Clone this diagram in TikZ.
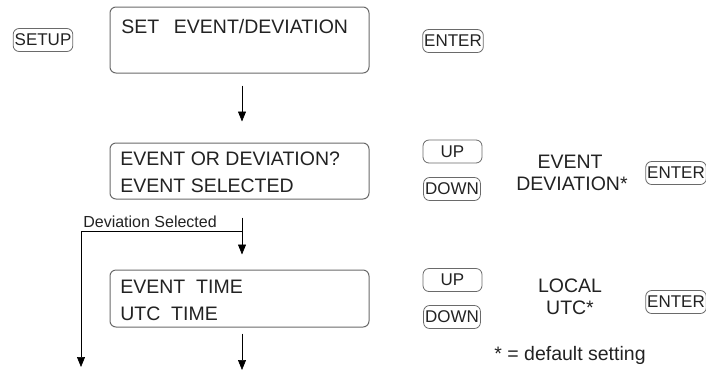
\documentclass[tikz,border=0pt]{standalone}
\usepackage{fontspec}
\setmainfont{Liberation Sans}
\usetikzlibrary{arrows.meta}

\definecolor{frame}{HTML}{6A6A6A}
\definecolor{ink}{HTML}{222222}

\begin{document}
\begin{tikzpicture}[x=1pt,y=-1pt,line width=.7pt,
  lcd/.style={draw=frame,line width=1pt,rounded corners=6pt,minimum width=259pt,inner sep=0pt},
  button/.style={draw=frame,line width=.8pt,rounded corners=6pt,inner xsep=1.5pt,inner ysep=0pt,minimum height=23pt,font=\fontsize{17}{17}\selectfont,text=ink},
  big/.style={inner sep=0pt,font=\fontsize{19.5}{22}\selectfont,text=ink},
  lcdline/.style={big,anchor=base west},
  choice/.style={big,anchor=base},
  arr/.style={-{Triangle[length=10pt,width=8pt]},line width=.7pt}]
\useasboundingbox (0,0) rectangle (706,373);
% displays
\node[lcd,minimum height=66pt] (setbox) at (239.5,40) {};
\node[lcd,minimum height=56pt] (evbox) at (239.5,171) {};
\node[lcd,minimum height=57pt] (timebox) at (239.5,298.5) {};
\node[lcdline] (settxt) at (121,33) {SET\hspace{.75em}EVENT/DEVIATION};
\node[lcdline] (evq) at (120,165) {EVENT OR DEVIATION?};
\node[lcdline] (evsel) at (120,192) {EVENT SELECTED};
\node[lcdline] (evtime) at (120,293) {EVENT\ \ TIME};
\node[lcdline] (utctime) at (120,320) {UTC\ \ TIME};
% keys
\node[button] (setup) at (43,40) {SETUP};
\node[button] (enter1) at (453,41) {ENTER};
\node[button,minimum width=59pt] (up1) at (452.5,151.5) {UP};
\node[button] (down1) at (452,189) {DOWN};
\node[button] (enter2) at (676,173) {ENTER};
\node[button,minimum width=59pt] (up2) at (452.5,280) {UP};
\node[button] (down2) at (452,317) {DOWN};
\node[button] (enter3) at (676,302) {ENTER};
% choices
\node[choice] (event) at (570,168) {EVENT};
\node[choice] (deviation) at (572,190) {DEVIATION*};
\node[choice] (local) at (570,292) {LOCAL};
\node[choice] (utc) at (570,314) {UTC*};
\node[choice] (default) at (570,360) {* = default setting};
% flow
\coordinate (branch) at (242,231);
\coordinate (devout) at (81,367);
\coordinate (timeout) at (242,370);
\draw[arr,shorten <=12pt,shorten >=21pt] ([xshift=2.5pt]setbox.south) -- ([xshift=2.5pt]evbox.north);
\draw[arr,shorten <=18pt,shorten >=15pt] ([xshift=2.5pt]evbox.south) -- ([xshift=2.5pt]timebox.north);
\draw[arr] (branch) -| (devout);
\draw[arr,shorten <=6pt] ([xshift=2.5pt]timebox.south) -- (timeout);
\node[anchor=base west,inner sep=0pt,font=\fontsize{16}{16}\selectfont,text=ink] (devsel) at (83,227) {Deviation Selected};
\end{tikzpicture}
\end{document}
